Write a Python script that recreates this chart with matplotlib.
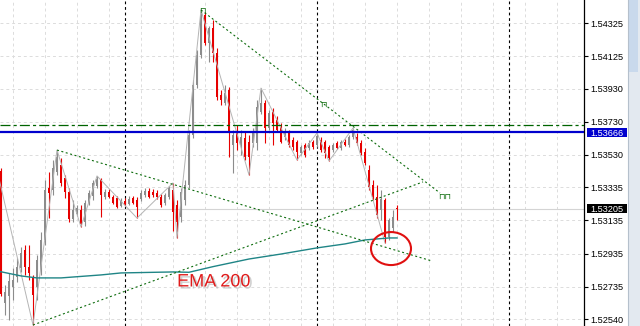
import numpy as np
import matplotlib.pyplot as plt
import matplotlib.patches as mpatches
import matplotlib.patheffects as pe
from matplotlib.transforms import blended_transform_factory

plt.rcParams['font.family'] = ['Liberation Sans', 'DejaVu Sans']

# candle data (oldest first), price
opens = [1.53433, 1.52637, 1.52679, 1.52733, 1.52794, 1.52848, 1.52956, 1.52854, 1.52794, 1.52733,
         1.52836, 1.53017, 1.53330, 1.53318, 1.53427, 1.53469, 1.53391, 1.53306, 1.53143, 1.53174,
         1.53198, 1.53125, 1.53240, 1.53282, 1.53342, 1.53379, 1.53276, 1.53306, 1.53276, 1.53270,
         1.53222, 1.53252, 1.53234, 1.53270, 1.53258, 1.53264, 1.53288, 1.53312, 1.53306, 1.53300,
         1.53276, 1.53240, 1.53276, 1.53318, 1.53228, 1.53155, 1.53258, 1.53348, 1.53650, 1.53951,
         1.54132, 1.54374, 1.54205, 1.54295, 1.54144, 1.53891, 1.53843, 1.53921, 1.53590, 1.53662,
         1.53590, 1.53632, 1.53608, 1.53602, 1.53602, 1.53789, 1.53843, 1.53692, 1.53789, 1.53740,
         1.53698, 1.53638, 1.53662, 1.53620, 1.53608, 1.53541, 1.53590, 1.53572, 1.53608, 1.53590,
         1.53620, 1.53608, 1.53578, 1.53559, 1.53602, 1.53572, 1.53608, 1.53590, 1.53638, 1.53638,
         1.53602, 1.53547, 1.53439, 1.53348, 1.53276, 1.53198, 1.53258, 1.53035, 1.53089, 1.53210]
highs = [1.53451, 1.52745, 1.52818, 1.52848, 1.52908, 1.52975, 1.52987, 1.52987, 1.52806, 1.52926,
         1.53065, 1.53379, 1.53427, 1.53499, 1.53559, 1.53511, 1.53409, 1.53330, 1.53258, 1.53228,
         1.53228, 1.53258, 1.53318, 1.53379, 1.53403, 1.53391, 1.53324, 1.53324, 1.53288, 1.53282,
         1.53270, 1.53270, 1.53282, 1.53282, 1.53276, 1.53318, 1.53330, 1.53330, 1.53324, 1.53318,
         1.53294, 1.53300, 1.53342, 1.53361, 1.53258, 1.53330, 1.53379, 1.53680, 1.53982, 1.54162,
         1.54404, 1.54392, 1.54307, 1.54343, 1.54175, 1.53921, 1.53951, 1.53939, 1.53680, 1.53710,
         1.53680, 1.53668, 1.53650, 1.53692, 1.53861, 1.53933, 1.53861, 1.53801, 1.53813, 1.53765,
         1.53722, 1.53692, 1.53680, 1.53638, 1.53620, 1.53590, 1.53602, 1.53620, 1.53620, 1.53662,
         1.53638, 1.53620, 1.53590, 1.53602, 1.53614, 1.53620, 1.53626, 1.53650, 1.53692, 1.53662,
         1.53620, 1.53572, 1.53469, 1.53379, 1.53348, 1.53318, 1.53270, 1.53149, 1.53198, 1.53228]
lows = [1.52679, 1.52565, 1.52534, 1.52655, 1.52764, 1.52824, 1.52806, 1.52776, 1.52504, 1.52655,
        1.52806, 1.52987, 1.53149, 1.53288, 1.53409, 1.53342, 1.53270, 1.53125, 1.53125, 1.53162,
        1.53095, 1.53101, 1.53228, 1.53258, 1.53330, 1.53155, 1.53264, 1.53270, 1.53234, 1.53210,
        1.53216, 1.53222, 1.53228, 1.53234, 1.53149, 1.53252, 1.53276, 1.53270, 1.53276, 1.53264,
        1.53216, 1.53228, 1.53264, 1.53071, 1.53029, 1.53125, 1.53228, 1.53330, 1.53632, 1.53933,
        1.54114, 1.54193, 1.54090, 1.54090, 1.53861, 1.53831, 1.53831, 1.53517, 1.53421, 1.53559,
        1.53529, 1.53499, 1.53409, 1.53578, 1.53559, 1.53777, 1.53602, 1.53680, 1.53590, 1.53668,
        1.53602, 1.53620, 1.53578, 1.53559, 1.53499, 1.53529, 1.53517, 1.53559, 1.53566, 1.53578,
        1.53547, 1.53511, 1.53493, 1.53547, 1.53566, 1.53559, 1.53584, 1.53578, 1.53626, 1.53590,
        1.53529, 1.53469, 1.53318, 1.53258, 1.53149, 1.53137, 1.52999, 1.53017, 1.53065, 1.53137]
closes = [1.52691, 1.52703, 1.52770, 1.52776, 1.52854, 1.52938, 1.52854, 1.52818, 1.52685, 1.52896,
          1.53017, 1.53318, 1.53300, 1.53451, 1.53517, 1.53361, 1.53306, 1.53143, 1.53198, 1.53210,
          1.53113, 1.53240, 1.53300, 1.53361, 1.53385, 1.53288, 1.53306, 1.53276, 1.53240, 1.53216,
          1.53252, 1.53228, 1.53264, 1.53240, 1.53216, 1.53300, 1.53312, 1.53276, 1.53288, 1.53276,
          1.53228, 1.53288, 1.53330, 1.53186, 1.53125, 1.53306, 1.53348, 1.53650, 1.53951, 1.54132,
          1.54374, 1.54205, 1.54295, 1.54144, 1.53879, 1.53861, 1.53903, 1.53662, 1.53650, 1.53602,
          1.53638, 1.53517, 1.53517, 1.53662, 1.53819, 1.53843, 1.53692, 1.53783, 1.53722, 1.53680,
          1.53608, 1.53668, 1.53590, 1.53578, 1.53547, 1.53578, 1.53529, 1.53602, 1.53578, 1.53644,
          1.53559, 1.53541, 1.53511, 1.53590, 1.53572, 1.53608, 1.53590, 1.53638, 1.53680, 1.53602,
          1.53541, 1.53481, 1.53336, 1.53276, 1.53168, 1.53264, 1.53035, 1.53137, 1.53155, 1.53205]

# EMA 200 read at some bars
ema_bar = [-1, 5, 9, 15, 25, 30, 43, 47, 53, 62, 70, 79, 86, 91, 97, 99]
ema_val = [1.52830, 1.52800, 1.52788, 1.52788, 1.52806, 1.52818, 1.52824, 1.52822, 1.52856,
           1.52902, 1.52932, 1.52969, 1.52993, 1.53017, 1.53029, 1.53029]

# zigzag turning points
zz_bar = [-1, 8, 14, 20, 24, 34, 43, 44, 50, 62, 65, 74, 79, 82, 88, 96]
zz_val = [1.53439, 1.52504, 1.53559, 1.53095, 1.53403, 1.53149, 1.53361, 1.53029, 1.54404,
          1.53409, 1.53933, 1.53499, 1.53662, 1.53493, 1.53692, 1.52999]

# trend lines (bar, price) -> (bar, price)
trend_lines = [((14, 1.53559), (107.75, 1.52890)),
               ((8, 1.52504), (105.5, 1.53367)),
               ((50, 1.54404), (109.75, 1.53300))]
marks = [(50.3, 1.54404), (80.5, 1.53837), (111, 1.53282)]
mark_txt = ['⊓', '⊓', '⊓⊓']

separators = [31, 79, 127]
level_blue = 1.53666
level_green = 1.53708
last_price = 1.53205
price_ticks = [1.54325, 1.54125, 1.53930, 1.53730, 1.53530,
               1.53335, 1.53135, 1.52935, 1.52735, 1.52540]

GREY = '#8c8c8c'
RED = '#e60000'
DKGREEN = '#0b6b0b'

fig = plt.figure(figsize=(6.4, 3.26), dpi=100)
ax = fig.add_axes([0, 0, 584 / 640, 1])
ax.set_xlim(-0.25, 145.75)
ax.set_ylim(1.52498, 1.54464)

o = np.array(opens)
h = np.array(highs)
l = np.array(lows)
c = np.array(closes)
idx = np.arange(len(o))
up = c >= o
dn = ~up

# grid
for gx in np.arange(3, 146, 8):
    ax.axvline(gx, color='#dcdcdc', lw=0.7, ls=(0, (3, 3)), zorder=0)
for gy in price_ticks:
    ax.axhline(gy, color='#dcdcdc', lw=0.7, ls=(0, (3, 3)), zorder=0)

for s in separators:
    ax.axvline(s, color='black', lw=0.8, ls=(0, (2.5, 2.5)), zorder=1)

ax.axhline(last_price, color='#d4d4d4', lw=0.8, zorder=1)

# candles
ax.vlines(idx[up], l[up], h[up], color=GREY, lw=0.8, zorder=3)
ax.vlines(idx[dn], l[dn], h[dn], color=RED, lw=0.8, zorder=3)
ax.bar(idx[up], np.maximum(c[up] - o[up], 0.00004), bottom=o[up], width=0.7,
       color=GREY, linewidth=0, zorder=3)
ax.bar(idx[dn], np.maximum(o[dn] - c[dn], 0.00004), bottom=c[dn], width=0.7,
       color=RED, linewidth=0, zorder=3)

ax.plot(zz_bar, zz_val, color='#b4b4b4', lw=0.7, zorder=4)
ax.plot(ema_bar, ema_val, color='#1f8586', lw=1.0, zorder=4)

for (x0, y0), (x1, y1) in trend_lines:
    ax.plot([x0, x1], [y0, y1], color=DKGREEN, lw=0.8, ls=(0, (1.8, 2.3)), zorder=5)
for (mx, my), t in zip(marks, mark_txt):
    ax.text(mx, my, t, color=DKGREEN, fontsize=6, ha='center', va='center',
            family='DejaVu Sans', zorder=5)

ax.axhline(level_green, color='#006400', lw=0.9, ls=(0, (8, 2.5, 2.5, 2.5)), zorder=5)
ax.axhline(level_blue, color='#0000cd', lw=1.6, zorder=6)

# red circle around the EMA touch
ax.add_patch(mpatches.Ellipse((97.5, 1.52965), 10, 0.00199, fill=False,
                              ec='#e01010', lw=1.5, zorder=7))

ax.text(0.366, 0.135, 'EMA 200', transform=ax.transAxes, ha='center', va='center',
        fontsize=13, color='#e01b1b', zorder=7,
        path_effects=[pe.SimplePatchShadow(offset=(1.5, -1.5), shadow_rgbFace='#b0b0b0', alpha=0.6),
                      pe.Normal()])

# axis
for side in ['top', 'left', 'bottom']:
    ax.spines[side].set_visible(False)
ax.spines['right'].set_color('black')
ax.spines['right'].set_linewidth(0.9)
ax.set_xticks([])
ax.yaxis.tick_right()
ax.set_yticks(price_ticks)
ax.set_yticklabels(['%.5f' % v for v in price_ticks])
ax.tick_params(axis='y', length=3, width=0.8, pad=1.5, labelsize=6.6, colors='black')

# price labels on the scale
blend = blended_transform_factory(fig.transFigure, ax.transData)
for val, col in [(level_blue, '#0000cd'), (last_price, 'black')]:
    fig.add_artist(mpatches.Rectangle((587 / 640, val - 0.00028), 40 / 640, 0.00056,
                                      transform=blend, fc=col, ec='none', clip_on=False))
    fig.text(590 / 640, val, '%.5f' % val, transform=blend, color='white', fontsize=6.6,
             va='center_baseline', ha='left')

# scroll bar on the right edge
fig.add_artist(mpatches.Rectangle((628 / 640, 0), 12 / 640, 1, transform=fig.transFigure,
                                  fc='#e3e9f0', ec='none'))
fig.add_artist(mpatches.Rectangle((629 / 640, 1 - 72 / 326), 9 / 640, 72 / 326,
                                  transform=fig.transFigure, fc='#c9d9ec', ec='none'))
fig.add_artist(plt.Line2D([628 / 640, 628 / 640], [0, 1], transform=fig.transFigure,
                          color='#b5c0cc', lw=0.8))

fig.savefig('out.png', dpi=100)
